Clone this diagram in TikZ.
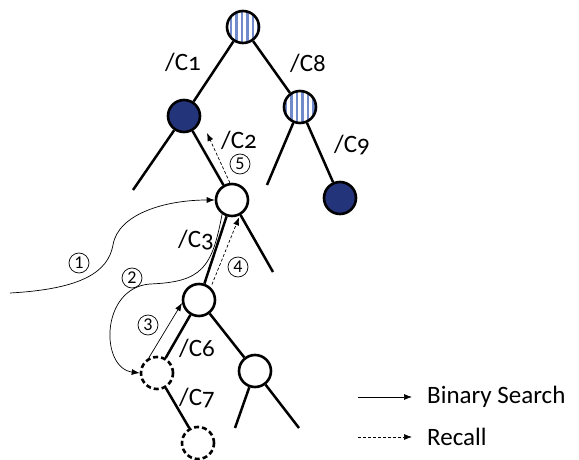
\documentclass[tikz,border=0pt]{standalone}
\usepackage{fontspec}
\setmainfont{Carlito}
\newfontfamily\labelfont{Carlito}[Numbers=OldStyle]
\usetikzlibrary{
    arrows.meta,
    patterns.meta
}
\definecolor{navy}{RGB}{36,52,122}
\definecolor{stripeblue}{RGB}{112,138,204}
\tikzstyle{tnode} = [
    circle,
    draw=black,
    line width=2.6pt,
    minimum size=32pt,
    inner sep=0pt
]
\tikzstyle{open} = [tnode, fill=white]
\tikzstyle{solved} = [tnode, fill=navy]
\tikzstyle{striped} = [
    tnode,
    preaction={fill=white},
    pattern={Lines[angle=90, distance=5.5pt, line width=2.6pt]},
    pattern color=stripeblue
]
\tikzstyle{pending} = [tnode, fill=white, dash pattern=on 5pt off 3pt]
\tikzstyle{edge} = [line width=2.5pt]
\tikzstyle{search} = [
    -{Latex[length=8pt, width=6pt]},
    line width=0.7pt
]
\tikzstyle{recall} = [search, dash pattern=on 3pt off 2pt]
\tikzstyle{stepnum} = [
    circle,
    draw=black,
    line width=0.7pt,
    minimum size=20pt,
    inner sep=0pt,
    font=\fontsize{18}{18}\selectfont
]
\tikzstyle{cut} = [font=\fontsize{25}{25}\selectfont\labelfont]
\tikzstyle{legend} = [anchor=west, inner sep=0pt, font=\fontsize{25}{25}\selectfont]

\begin{document}
\begin{tikzpicture}[x=1pt, y=-1pt]
    \useasboundingbox (0,0) rectangle (579,460);

    % Tree nodes
    \node[striped] (root) at (243, 27) {};
    \node[solved] (n1) at (184, 116) {};
    \node[striped] (n8) at (300, 107) {};
    \node[solved] (n9) at (340, 198) {};
    \node[open] (n2) at (232, 200) {};
    \node[open] (n3) at (199, 300) {};
    \node[open] (n4) at (255, 371) {};
    \node[pending] (n6) at (157, 373) {};
    \node[pending] (n7) at (198, 443) {};

    % Loose branch ends
    \coordinate (l1) at (133, 190);
    \coordinate (l8) at (267, 185);
    \coordinate (r2) at (273, 272);
    \coordinate (l4) at (235, 428);
    \coordinate (r4) at (299, 428);

    % Branches
    \draw[edge] (root) -- (n1);
    \draw[edge] (root) -- (n8);
    \draw[edge] (n1) -- (l1);
    \draw[edge] (n1) -- (n2);
    \draw[edge] (n8) -- (l8);
    \draw[edge] (n8) -- (n9);
    \draw[edge] (n2) -- (n3);
    \draw[edge] (n2) -- (r2);
    \draw[edge] (n3) -- (n6);
    \draw[edge] (n3) -- (n4);
    \draw[edge] (n4) -- (l4);
    \draw[edge] (n4) -- (r4);
    \draw[edge] (n6) -- (n7);

    % Branch labels
    \node[cut] (c1) at (183, 62) {/C1};
    \node[cut] (c8) at (308, 63) {/C8};
    \node[cut] (c2) at (239, 140) {/C2};
    \node[cut] (c9) at (352, 145) {/C9};
    \node[cut] (c3) at (196, 240) {/C3};
    \node[cut] (c6) at (197, 348) {/C6};
    \node[cut] (c7) at (197, 398) {/C7};

    % Search and recall steps
    \coordinate (entry) at (10, 293);
    \coordinate (back) at (207, 133);
    \draw[search] (entry) .. controls (82, 289) and (108, 272) .. (113, 245)
        .. controls (118, 214) and (165, 200) .. (n2.west);
    \draw[search] (n2.235) .. controls (212, 268) and (202, 282) .. (150, 284)
        .. controls (100, 288) and (100, 368) .. (n6.west);
    \draw[search] (n6.118) -- (n3.190);
    \draw[recall, shorten <=3pt, shorten >=2pt] (n3.47) -- (n2.-63);
    \draw[recall] (n2.97) -- (back);

    \node[stepnum] (s1) at (79, 263) {1};
    \node[stepnum] (s2) at (132, 278) {2};
    \node[stepnum] (s3) at (148, 325) {3};
    \node[stepnum] (s4) at (238, 267) {4};
    \node[stepnum] (s5) at (240, 164) {5};

    % Legend
    \coordinate (bs0) at (358, 397);
    \coordinate (bs1) at (412, 397);
    \coordinate (rc0) at (358, 437);
    \coordinate (rc1) at (412, 437);
    \draw[search] (bs0) -- (bs1);
    \draw[recall] (rc0) -- (rc1);
    \node[legend] (bstext) at (427, 397) {Binary Search};
    \node[legend] (rctext) at (427, 437) {Recall};
\end{tikzpicture}
\end{document}
